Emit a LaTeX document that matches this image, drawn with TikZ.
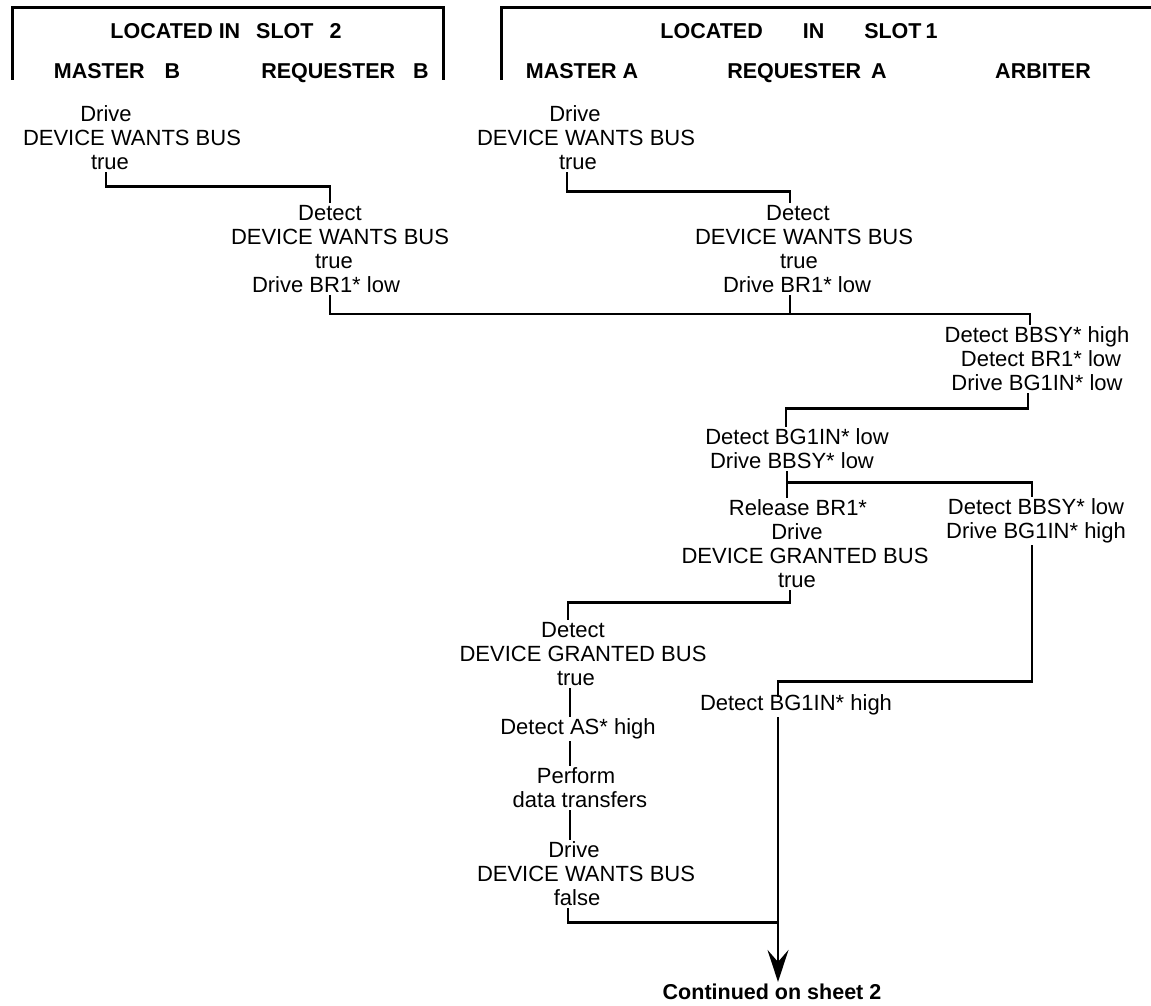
\documentclass[tikz,border=0pt]{standalone}
\usepackage{fontspec}
\setmainfont{Liberation Sans}
\usetikzlibrary{arrows.meta,calc}
\newcommand{\lsh}[1]{\hspace*{#1pt}}
\begin{document}
\begin{tikzpicture}[x=1pt,y=-1pt,
  txt/.style={align=center,inner sep=2pt,font=\fontsize{22}{24}\selectfont},
  hd/.style={anchor=base,inner sep=2pt,font=\bfseries\fontsize{21.5}{24}\selectfont},
  wire/.style={line width=2.6pt},
  frame/.style={line width=3pt}]
\useasboundingbox (0,0) rectangle (1151,1006);

% header frames
\draw[frame] (12,80) -- (12,8) -- (443,8) -- (443,80);
\draw[frame] (501,80) -- (501,8) -- (1151,8);

% header texts
\node[hd] (loc2) at (226,39) {LOCATED IN\hspace{10pt} SLOT\hspace{10pt} 2};
\node[hd] (mstb) at (117,79) {MASTER\hspace{14pt} B};
\node[hd] (reqb) at (345,79) {REQUESTER\hspace{12pt} B};
\node[hd] (loc1) at (799,39) {LOCATED\hspace{34pt} IN\hspace{34pt} SLOT\hspace{-2pt} 1};
\node[hd] (msta) at (582,79) {MASTER A};
\node[hd] (reqa) at (807,79) {REQUESTER\hspace{4pt} A};
\node[hd] (arbt) at (1043,79) {ARBITER};

% body nodes
\node[txt] (mb1) at (132,138) {\lsh{-52}Drive\\DEVICE WANTS BUS\\\lsh{-44}true};
\node[txt] (ra1) at (340,249) {\lsh{-20}Detect\\DEVICE WANTS BUS\\\lsh{-12}true\\\lsh{-28}Drive BR1* low};
\node[txt] (ma1) at (586,138) {\lsh{-22}Drive\\DEVICE WANTS BUS\\\lsh{-16}true};
\node[txt] (raa1) at (804,249) {\lsh{-12}Detect\\DEVICE WANTS BUS\\\lsh{-10}true\\\lsh{-14}Drive BR1* low};
\node[txt] (arb1) at (1037,359) {Detect BBSY* high\\\lsh{8}Detect BR1* low\\Drive BG1IN* low};
\node[txt] (ma2) at (797,449) {Detect BG1IN* low\\\lsh{-10}Drive BBSY* low};
\node[txt] (ma3) at (805,544) {\lsh{-14}Release BR1*\\\lsh{-16}Drive\\DEVICE GRANTED BUS\\\lsh{-16}true};
\node[txt] (arb2) at (1036,521) {Detect BBSY* low\\Drive BG1IN* high};
\node[txt] (mb2) at (583,654) {\lsh{-20}Detect\\DEVICE GRANTED BUS\\\lsh{-14}true};
\node[txt] (mb3) at (578,729) {Detect AS* high};
\node[txt] (mb4) at (580,788) {\lsh{-8}Perform\\data transfers};
\node[txt] (mb5) at (586,874) {\lsh{-24}Drive\\DEVICE WANTS BUS\\\lsh{-18}false};
\node[txt] (raa2) at (796,705) {Detect BG1IN* high};
\node[hd,anchor=center] (cont) at (772,992) {Continued on sheet 2};

% connectors
\draw[wire] ($(mb1.south)+(-26,0)$) -- ++(0,14) -| ($(ra1.north)+(-10,0)$);
\draw[wire] ($(ma1.south)+(-19,0)$) -- ++(0,19) -| ($(raa1.north)+(-14,0)$);
\draw[wire] ($(ra1.south)+(-10,0)$) -- ++(0,19) -| ($(arb1.north)+(-7,0)$);
\draw[wire] ($(raa1.south)+(-14,0)$) -- ++(0,19);
\draw[wire] ($(arb1.south)+(-9,0)$) -- ++(0,15) -| ($(ma2.north)+(-11,0)$);
\draw[wire] ($(ma2.south)+(-10,0)$) -- ($(ma3.north)+(-18,0)$);
\draw[wire] ($(ma2.south)+(-10,11)$) -| ($(arb2.north)+(-4,0)$);
\draw[wire] ($(ma3.south)+(-15,0)$) -- ++(0,12) -| ($(mb2.north)+(-15,0)$);
\draw[wire] ($(arb2.south)+(-4,0)$) |- ($(raa2.north)+(-18,-11)$) -- ($(raa2.north)+(-18,4)$);
\draw[wire] ($(mb2.south)+(-13,0)$) -- ($(mb3.north)+(-8,0)$);
\draw[wire] ($(mb3.south)+(-8,0)$) -- ($(mb4.north)+(-10,0)$);
\draw[wire] ($(mb4.south)+(-10,0)$) -- ($(mb5.north)+(-16,0)$);
\coordinate (jn) at ($(raa2.south)+(-18,0)$);
\draw[wire] ($(mb5.south)+(-18,0)$) -- ++(0,14) -| (jn);
\draw[wire,-{Stealth[length=32pt,width=21pt,inset=12pt]}] (jn) -- ($(cont.north)+(6,0)$);
\end{tikzpicture}
\end{document}
